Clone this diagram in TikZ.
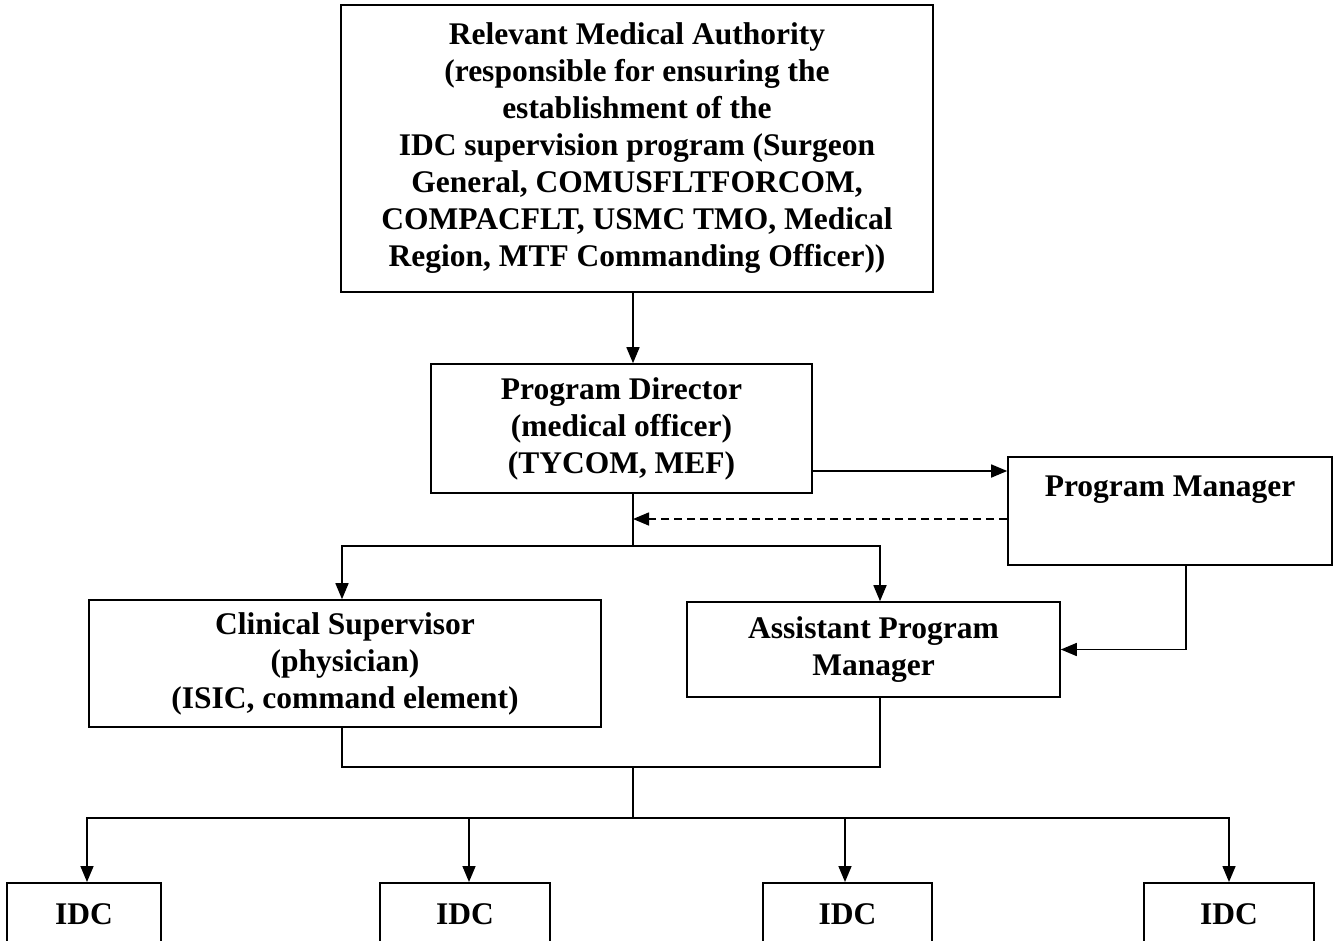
\documentclass[tikz,border=0pt]{standalone}
\usepackage{fontspec}
\setmainfont{Liberation Serif}
\usetikzlibrary{arrows.meta,calc}
\begin{document}
\begin{tikzpicture}[x=1pt,y=-1pt,
  box/.style={draw, line width=1.6pt, inner sep=0pt, align=center,
    font=\fontsize{31.5}{37}\selectfont\bfseries},
  idcbox/.style={box, anchor=north, text height=21pt, text depth=70pt, inner ysep=21pt, inner xsep=0pt},
  conn/.style={line width=1.6pt},
  arr/.style={conn, -{Triangle[length=16pt,width=13pt]}},
  darr/.style={arr, dash pattern=on 8pt off 5pt}]
\useasboundingbox (0,0) rectangle (1333,940);
\clip (0,0) rectangle (1333,940);

\node[box, minimum width=592pt, minimum height=287pt] (top) at (637,148.5)
  {Relevant Medical Authority\\(responsible for ensuring the\\establishment of the\\IDC supervision program (Surgeon\\General, COMUSFLTFORCOM,\\COMPACFLT, USMC TMO, Medical\\Region, MTF Commanding Officer))};
\node[box, minimum width=381pt, minimum height=129pt] (pd) at (621.5,428.5)
  {Program Director\\(medical officer)\\(TYCOM, MEF)};
\node[box, minimum width=324pt, minimum height=108pt] (pm) at (1170,511)
  {Program Manager\\[12pt]\mbox{}};
\node[box, minimum width=512pt, minimum height=127pt] (cs) at (345,663.5)
  {Clinical Supervisor\\(physician)\\(ISIC, command element)};
\node[box, minimum width=373pt, minimum height=95pt] (apm) at (873.5,649.5)
  {Assistant Program\\Manager};

\node[idcbox, minimum width=154pt] (idc1) at (84,882) {IDC};
\node[idcbox, minimum width=170pt] (idc2) at (465,882) {IDC};
\node[idcbox, minimum width=169pt] (idc3) at (847.5,882) {IDC};
\node[idcbox, minimum width=170pt] (idc4) at (1229,882) {IDC};

\coordinate (j1) at (633,546);
\coordinate (j2) at (633,767);
\coordinate (j3) at (633,818);
\coordinate (csx) at (342,0);
\coordinate (apx) at (880,0);
\coordinate (pmx) at (1186,0);
\coordinate (ay) at (0,471);
\coordinate (dy) at (0,519);

\draw[arr] (top.south -| j1) -- (pd.north -| j1);
\draw[arr] (pd.east |- ay) -- (pm.west |- ay);
\draw[darr] (pm.west |- dy) -- (j1 |- dy);
\draw[conn] (pd.south -| j1) -- (j1);
\draw[arr] (j1) -| (cs.north -| csx);
\draw[arr] (j1) -| (apm.north -| apx);
\draw[arr] (pm.south -| pmx) |- (apm.east);
\draw[conn] (cs.south -| csx) |- (j2) -| (apm.south -| apx);
\draw[conn] (j2) -- (j3);
\draw[arr] (j3) -| ([xshift=3pt]idc1.north);
\draw[arr] (j3) -| ([xshift=4pt]idc2.north);
\draw[arr] (j3) -| ([xshift=-2.5pt]idc3.north);
\draw[arr] (j3) -| (idc4.north);
\end{tikzpicture}
\end{document}
